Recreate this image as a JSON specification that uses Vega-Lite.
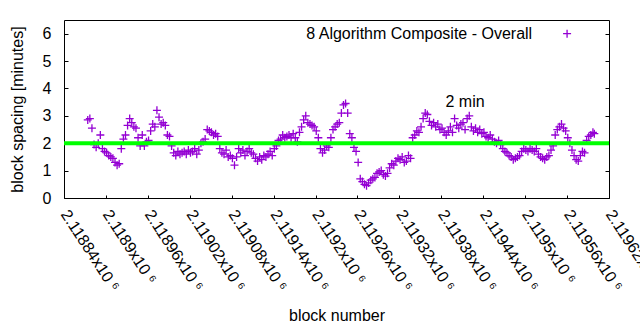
{
  "$schema": "https://vega.github.io/schema/vega-lite/v6.json",
  "width": 545,
  "height": 178,
  "autosize": {"type": "none"},
  "padding": {"left": 64, "top": 20, "right": 31, "bottom": 132},
  "background": "white",
  "config": {
    "font": "Liberation Sans",
    "view": {"stroke": "black", "strokeWidth": 1},
    "axis": {"labelColor": "black", "titleColor": "black", "tickColor": "black", "titleFontWeight": "normal", "labelFontSize": 16, "titleFontSize": 16, "grid": false, "domain": false}
  },
  "layer": [
    {
      "data": {"values": [
        {"b":2118874,"s":2.85},{"b":2118877,"s":2.9},{"b":2118880,"s":2.55},{"b":2118883,"s":1.95},{"b":2118886,"s":1.85},{"b":2118889,"s":2.0},{"b":2118892,"s":2.3},{"b":2118895,"s":1.8},{"b":2118898,"s":1.7},{"b":2118901,"s":1.65},
        {"b":2118904,"s":1.55},{"b":2118907,"s":1.5},{"b":2118910,"s":1.45},{"b":2118913,"s":1.3},{"b":2118916,"s":1.2},{"b":2118919,"s":1.25},{"b":2118922,"s":1.8},{"b":2118925,"s":2.15},{"b":2118928,"s":2.3},{"b":2118931,"s":2.65},
        {"b":2118934,"s":2.9},{"b":2118937,"s":2.75},{"b":2118940,"s":2.6},{"b":2118943,"s":2.55},{"b":2118946,"s":2.2},{"b":2118949,"s":1.9},{"b":2118952,"s":2.3},{"b":2118955,"s":1.9},{"b":2118958,"s":2.05},{"b":2118961,"s":2.1},
        {"b":2118964,"s":2.45},{"b":2118967,"s":2.7},{"b":2118970,"s":2.6},{"b":2118973,"s":3.2},{"b":2118976,"s":2.95},{"b":2118979,"s":2.7},{"b":2118982,"s":2.75},{"b":2118985,"s":2.65},{"b":2118988,"s":2.3},{"b":2118991,"s":2.25},
        {"b":2118994,"s":1.9},{"b":2118997,"s":1.65},{"b":2119000,"s":1.55},{"b":2119003,"s":1.7},{"b":2119006,"s":1.6},{"b":2119009,"s":1.65},{"b":2119012,"s":1.7},{"b":2119015,"s":1.6},{"b":2119018,"s":1.75},{"b":2119021,"s":1.65},
        {"b":2119024,"s":1.7},{"b":2119027,"s":1.8},{"b":2119030,"s":1.6},{"b":2119033,"s":1.75},{"b":2119036,"s":2.0},{"b":2119039,"s":2.05},{"b":2119042,"s":2.15},{"b":2119045,"s":2.5},{"b":2119048,"s":2.45},{"b":2119051,"s":2.4},
        {"b":2119054,"s":2.3},{"b":2119057,"s":2.35},{"b":2119060,"s":2.25},{"b":2119063,"s":1.8},{"b":2119066,"s":1.65},{"b":2119069,"s":1.6},{"b":2119072,"s":1.75},{"b":2119075,"s":1.5},{"b":2119078,"s":1.55},{"b":2119081,"s":1.45},
        {"b":2119084,"s":1.2},{"b":2119087,"s":1.5},{"b":2119090,"s":1.8},{"b":2119093,"s":1.65},{"b":2119096,"s":1.75},{"b":2119099,"s":1.55},{"b":2119102,"s":1.7},{"b":2119105,"s":1.8},{"b":2119108,"s":1.65},{"b":2119111,"s":1.6},
        {"b":2119114,"s":1.45},{"b":2119117,"s":1.35},{"b":2119120,"s":1.5},{"b":2119123,"s":1.4},{"b":2119126,"s":1.55},{"b":2119129,"s":1.5},{"b":2119132,"s":1.6},{"b":2119135,"s":1.7},{"b":2119138,"s":1.55},{"b":2119141,"s":1.8},
        {"b":2119144,"s":1.9},{"b":2119147,"s":2.1},{"b":2119150,"s":2.15},{"b":2119153,"s":2.3},{"b":2119156,"s":2.2},{"b":2119159,"s":2.25},{"b":2119162,"s":2.3},{"b":2119165,"s":2.2},{"b":2119168,"s":2.35},{"b":2119171,"s":2.2},
        {"b":2119174,"s":2.05},{"b":2119177,"s":2.4},{"b":2119180,"s":2.6},{"b":2119183,"s":2.85},{"b":2119186,"s":3.0},{"b":2119189,"s":2.75},{"b":2119192,"s":2.7},{"b":2119195,"s":2.65},{"b":2119198,"s":2.6},{"b":2119201,"s":2.45},
        {"b":2119204,"s":2.2},{"b":2119207,"s":1.8},{"b":2119210,"s":1.65},{"b":2119213,"s":1.75},{"b":2119216,"s":1.9},{"b":2119219,"s":1.85},{"b":2119222,"s":2.2},{"b":2119225,"s":2.5},{"b":2119228,"s":2.6},{"b":2119231,"s":2.7},
        {"b":2119234,"s":2.75},{"b":2119237,"s":3.1},{"b":2119240,"s":3.4},{"b":2119243,"s":3.45},{"b":2119246,"s":3.1},{"b":2119249,"s":2.35},{"b":2119252,"s":2.2},{"b":2119255,"s":1.85},{"b":2119258,"s":1.7},{"b":2119261,"s":1.3},
        {"b":2119264,"s":0.7},{"b":2119267,"s":0.6},{"b":2119270,"s":0.5},{"b":2119273,"s":0.45},{"b":2119276,"s":0.55},{"b":2119279,"s":0.65},{"b":2119282,"s":0.7},{"b":2119285,"s":0.75},{"b":2119288,"s":0.9},{"b":2119291,"s":0.95},
        {"b":2119294,"s":1.0},{"b":2119297,"s":0.85},{"b":2119300,"s":0.8},{"b":2119303,"s":0.9},{"b":2119306,"s":1.1},{"b":2119309,"s":1.25},{"b":2119312,"s":1.2},{"b":2119315,"s":1.35},{"b":2119318,"s":1.45},{"b":2119321,"s":1.4},
        {"b":2119324,"s":1.5},{"b":2119327,"s":1.3},{"b":2119330,"s":1.35},{"b":2119333,"s":1.55},{"b":2119336,"s":1.45},{"b":2119339,"s":2.2},{"b":2119342,"s":2.3},{"b":2119345,"s":2.45},{"b":2119348,"s":2.4},{"b":2119351,"s":2.6},
        {"b":2119354,"s":2.9},{"b":2119357,"s":3.1},{"b":2119360,"s":3.05},{"b":2119363,"s":2.8},{"b":2119366,"s":2.65},{"b":2119369,"s":2.75},{"b":2119372,"s":2.6},{"b":2119375,"s":2.7},{"b":2119378,"s":2.5},{"b":2119381,"s":2.55},
        {"b":2119384,"s":2.4},{"b":2119387,"s":2.3},{"b":2119390,"s":2.45},{"b":2119393,"s":2.6},{"b":2119396,"s":2.4},{"b":2119399,"s":2.9},{"b":2119402,"s":2.65},{"b":2119405,"s":2.55},{"b":2119408,"s":2.7},{"b":2119411,"s":2.75},
        {"b":2119414,"s":2.5},{"b":2119417,"s":2.9},{"b":2119420,"s":3.0},{"b":2119423,"s":2.6},{"b":2119426,"s":2.45},{"b":2119429,"s":2.55},{"b":2119432,"s":2.4},{"b":2119435,"s":2.5},{"b":2119438,"s":2.35},{"b":2119441,"s":2.4},
        {"b":2119444,"s":2.25},{"b":2119447,"s":2.2},{"b":2119450,"s":2.3},{"b":2119453,"s":2.15},{"b":2119456,"s":2.05},{"b":2119459,"s":2.0},{"b":2119462,"s":2.1},{"b":2119465,"s":1.95},{"b":2119468,"s":1.8},{"b":2119471,"s":1.7},
        {"b":2119474,"s":1.65},{"b":2119477,"s":1.55},{"b":2119480,"s":1.5},{"b":2119483,"s":1.4},{"b":2119486,"s":1.45},{"b":2119489,"s":1.5},{"b":2119492,"s":1.55},{"b":2119495,"s":1.7},{"b":2119498,"s":1.8},{"b":2119501,"s":1.75},
        {"b":2119504,"s":1.7},{"b":2119507,"s":1.8},{"b":2119510,"s":1.75},{"b":2119513,"s":1.7},{"b":2119516,"s":1.8},{"b":2119519,"s":1.6},{"b":2119522,"s":1.5},{"b":2119525,"s":1.45},{"b":2119528,"s":1.4},{"b":2119531,"s":1.5},
        {"b":2119534,"s":1.55},{"b":2119537,"s":1.75},{"b":2119540,"s":1.9},{"b":2119543,"s":2.3},{"b":2119546,"s":2.5},{"b":2119549,"s":2.6},{"b":2119552,"s":2.7},{"b":2119555,"s":2.55},{"b":2119558,"s":2.45},{"b":2119561,"s":2.2},
        {"b":2119564,"s":2.0},{"b":2119567,"s":1.75},{"b":2119570,"s":1.55},{"b":2119573,"s":1.4},{"b":2119576,"s":1.35},{"b":2119579,"s":1.55},{"b":2119582,"s":1.7},{"b":2119585,"s":1.65},{"b":2119588,"s":2.1},{"b":2119591,"s":2.25},
        {"b":2119594,"s":2.3},{"b":2119597,"s":2.4},{"b":2119599,"s":2.35}
      ]},
      "mark": {"type": "point", "shape": "M-1,0H1M0,-1V1", "size": 64, "filled": false, "stroke": "#9400d3", "strokeWidth": 1.3, "opacity": 1},
      "encoding": {
        "x": {"field": "b", "type": "quantitative", "scale": {"domain": [2118840, 2119620], "nice": false, "zero": false},
          "axis": {"title": "block number", "values": [2118840,2118900,2118960,2119020,2119080,2119140,2119200,2119260,2119320,2119380,2119440,2119500,2119560,2119620],
            "labelExpr": "format(datum.value/1000000, '.6~r') + 'x10 ⁶'", "labelAngle": 57, "labelAlign": "left", "labelBaseline": "middle",
            "tickSize": -3, "labelPadding": 16, "labelOverlap": false, "labelBound": false, "labelFlush": false,
            "titleY": 117, "titleBaseline": "middle"}},
        "y": {"field": "s", "type": "quantitative", "scale": {"domain": [0, 6.5], "nice": false},
          "axis": {"title": "block spacing [minutes]", "values": [0,1,2,3,4,5,6], "tickSize": -4, "labelPadding": 17,
            "titleX": -47, "titleY": 89, "titleBaseline": "middle", "titleAngle": -90}}
      }
    },
    {
      "data": {"values": [{"level": 2}]},
      "mark": {"type": "rule", "color": "#00ff00", "strokeWidth": 4},
      "encoding": {
        "y": {"field": "level", "type": "quantitative", "scale": {"domain": [0, 6.5], "nice": false},
          "axis": {"orient": "right", "title": null, "labels": false, "values": [0,1,2,3,4,5,6], "tickSize": -4}}
      }
    },
    {
      "data": {"values": [{"b": 2119414, "s": 3.49, "t": "2 min"}]},
      "mark": {"type": "text", "fontSize": 16, "align": "center", "baseline": "middle", "color": "black"},
      "encoding": {
        "x": {"field": "b", "type": "quantitative"},
        "y": {"field": "s", "type": "quantitative", "axis": null},
        "text": {"field": "t"}
      }
    },
    {
      "data": {"values": [{"b": 2119510, "s": 6.0, "t": "8 Algorithm Composite - Overall"}]},
      "mark": {"type": "text", "fontSize": 16, "align": "right", "baseline": "middle", "color": "black"},
      "encoding": {
        "x": {"field": "b", "type": "quantitative"},
        "y": {"field": "s", "type": "quantitative", "axis": null},
        "text": {"field": "t"}
      }
    },
    {
      "data": {"values": [{"b": 2119560, "s": 6.0}]},
      "mark": {"type": "point", "shape": "M-1,0H1M0,-1V1", "size": 64, "filled": false, "stroke": "#9400d3", "strokeWidth": 1.3, "opacity": 1},
      "encoding": {
        "x": {"field": "b", "type": "quantitative"},
        "y": {"field": "s", "type": "quantitative", "axis": null}
      }
    }
  ],
  "resolve": {"axis": {"y": "independent"}}
}
